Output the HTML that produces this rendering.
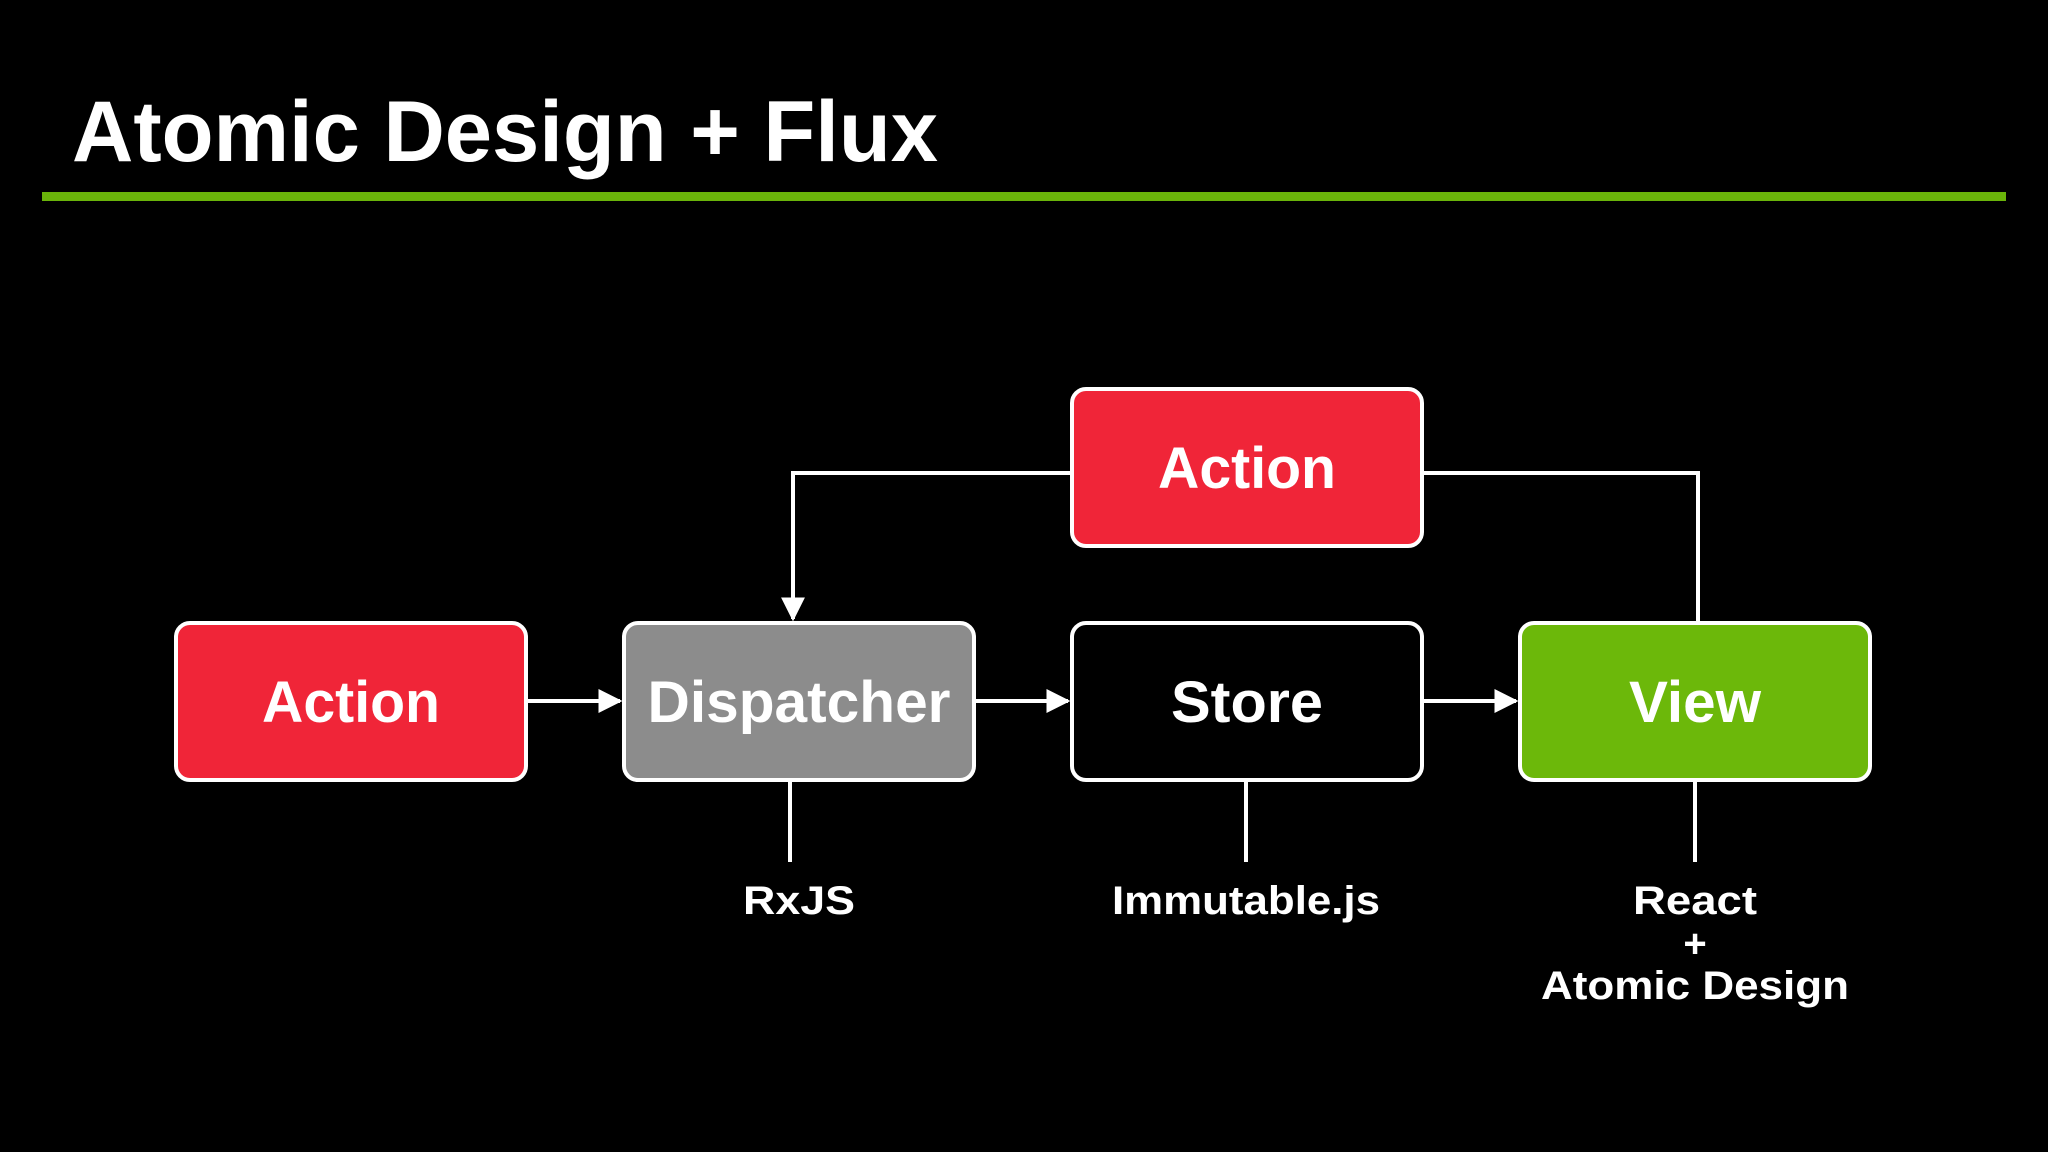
<!DOCTYPE html>
<html><head><meta charset="utf-8"><style>
html,body{margin:0;padding:0;background:#000;}
svg{display:block;}
text{font-family:"Liberation Sans","DejaVu Sans",sans-serif;fill:#fff;}
</style></head><body>
<svg width="2048" height="1152" viewBox="0 0 2048 1152" xmlns="http://www.w3.org/2000/svg">
<rect width="2048" height="1152" fill="#000"/>
<text x="72" y="161" font-size="86" font-weight="bold" textLength="866" lengthAdjust="spacingAndGlyphs">Atomic Design + Flux</text>
<rect x="42" y="192" width="1964" height="9" fill="#6ab40a"/>
<defs><marker id="a" viewBox="0 0 10 10" refX="9" refY="5" markerWidth="6" markerHeight="6" orient="auto"><path d="M0,0L10,5L0,10z" fill="#fff"/></marker></defs>
<g stroke="#fff" stroke-width="4" fill="none">
<polyline points="1072,473 793,473 793,619" marker-end="url(#a)"/>
<polyline points="1422,473 1698,473 1698,623"/>
<line x1="526" y1="701" x2="620" y2="701" marker-end="url(#a)"/>
<line x1="974" y1="701" x2="1068" y2="701" marker-end="url(#a)"/>
<line x1="1422" y1="701" x2="1516" y2="701" marker-end="url(#a)"/>
<line x1="790" y1="781" x2="790" y2="862"/>
<line x1="1246" y1="781" x2="1246" y2="862"/>
<line x1="1695" y1="781" x2="1695" y2="862"/>
</g>
<g stroke="#fff" stroke-width="4">
<rect x="176" y="623" width="350" height="157" rx="14" fill="#f02538"/>
<rect x="624" y="623" width="350" height="157" rx="14" fill="#8c8c8c"/>
<rect x="1072" y="623" width="350" height="157" rx="14" fill="#000"/>
<rect x="1520" y="623" width="350" height="157" rx="14" fill="#6cb80a"/>
<rect x="1072" y="389" width="350" height="157" rx="14" fill="#f02538"/>
</g>
<g font-size="58" font-weight="bold" text-anchor="middle">
<text x="351" y="722" textLength="178" lengthAdjust="spacingAndGlyphs">Action</text>
<text x="799" y="722" textLength="303" lengthAdjust="spacingAndGlyphs">Dispatcher</text>
<text x="1247" y="722" textLength="152" lengthAdjust="spacingAndGlyphs">Store</text>
<text x="1695" y="722" textLength="132" lengthAdjust="spacingAndGlyphs">View</text>
<text x="1247" y="488" textLength="178" lengthAdjust="spacingAndGlyphs">Action</text>
</g>
<g font-size="40" font-weight="bold" text-anchor="middle">
<text x="799" y="914" textLength="112" lengthAdjust="spacingAndGlyphs">RxJS</text>
<text x="1246" y="914" textLength="268" lengthAdjust="spacingAndGlyphs">Immutable.js</text>
<text x="1695" y="914" textLength="124" lengthAdjust="spacingAndGlyphs">React</text>
<text x="1695" y="957">+</text>
<text x="1695" y="999" textLength="308" lengthAdjust="spacingAndGlyphs">Atomic Design</text>
</g>
</svg>
</body></html>
